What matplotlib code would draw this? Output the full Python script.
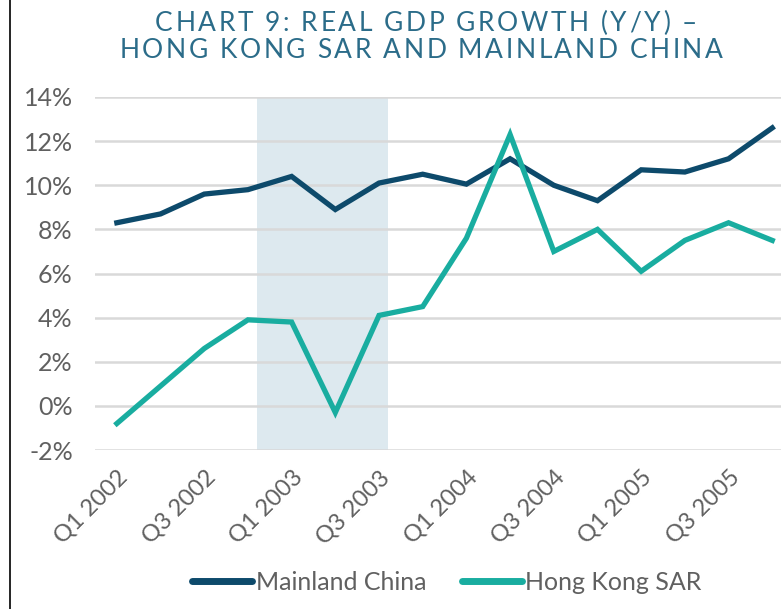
import numpy as np
import matplotlib.pyplot as plt
from matplotlib.lines import Line2D

# ── Datos ─────────────────────────────────────────────
trimestres = ["Q1 2002", "Q2 2002", "Q3 2002", "Q4 2002",
              "Q1 2003", "Q2 2003", "Q3 2003", "Q4 2003",
              "Q1 2004", "Q2 2004", "Q3 2004", "Q4 2004",
              "Q1 2005", "Q2 2005", "Q3 2005", "Q4 2005"]
china = [8.3, 8.7, 9.6, 9.8, 10.4, 8.9, 10.1, 10.5,
         10.05, 11.2, 10.0, 9.3, 10.7, 10.6, 11.2, 12.6]
hong_kong = [-0.8, 0.9, 2.6, 3.9, 3.8, -0.3, 4.1, 4.5,
             7.6, 12.3, 7.0, 8.0, 6.1, 7.5, 8.3, 7.5]
sars = (3.2, 6.2)          # periodo sombreado (SARS)
yticks = [-2, 0, 2, 4, 6, 8, 10, 12, 14]
titulo = ["CHART 9: REAL GDP GROWTH (Y/Y) –",
          "HONG KONG SAR AND MAINLAND CHINA"]

C_CHINA = "#0d4a6b"
C_HK = "#19ada0"
C_GRIS = "#606060"
FUENTE = "Lato"
W, H = 781, 609


def texto_espaciado(fig, s, xc, y, track, **kw):
    """Texto centrado en xc (px) con espaciado extra entre letras."""
    r = fig.canvas.get_renderer()

    def ancho(t):
        a = fig.text(0, 0, t + "|", **kw)
        b = fig.text(0, 0, "|", **kw)
        w = a.get_window_extent(r).width - b.get_window_extent(r).width
        a.remove(); b.remove()
        return w

    pos = [ancho(s[:i]) + i * track for i in range(len(s))]
    total = ancho(s) + (len(s) - 1) * track
    x0 = xc - total / 2
    for ch, p in zip(s, pos):
        if ch != " ":
            fig.text((x0 + p) / W, 1 - y / H, ch, ha="left", va="baseline", **kw)


fig = plt.figure(figsize=(W / 100, H / 100), dpi=100)
ax = fig.add_axes([95 / W, 1 - 450 / H, 1 - 95 / W, (450 - 97) / H])

x = np.arange(len(trimestres))
ax.axvspan(*sars, color="#dde9ef", zorder=0, lw=0)
for v in yticks:
    ax.axhline(v, color="#d9d9d9", lw=1.8, zorder=1)

ax.plot(x, china, color=C_CHINA, lw=3.8, zorder=3, solid_joinstyle="miter")
ax.plot(x, hong_kong, color=C_HK, lw=3.8, zorder=3, solid_joinstyle="miter")

ax.set_ylim(-2, 14)
ax.set_xlim(-0.5, 15.2)
ax.set_yticks(yticks)
ax.set_yticklabels([f"{v}%" for v in yticks], fontsize=18, color=C_GRIS,
                   family=FUENTE)
ax.set_xticks(x[::2])
ax.set_xticklabels(trimestres[::2], fontsize=17, color=C_GRIS, family=FUENTE,
                   rotation=45, ha="right", rotation_mode="anchor")
ax.tick_params(axis="y", length=0, pad=16)
ax.tick_params(axis="x", length=0, pad=12)
for s in ax.spines.values():
    s.set_visible(False)

estilo = dict(fontsize=19, color="#2b6c89", family=FUENTE)
texto_espaciado(fig, titulo[0], 426, 31, 2.6, **estilo)
texto_espaciado(fig, titulo[1], 421, 58, 2.6, **estilo)

handles = [Line2D([], [], color=C_CHINA, lw=5, solid_capstyle="round"),
           Line2D([], [], color=C_HK, lw=5, solid_capstyle="round")]
leg = fig.legend(handles, ["Mainland China", "Hong Kong SAR"], loc="center",
                 bbox_to_anchor=(447 / W, 1 - 582 / H), ncol=2, frameon=False,
                 handlelength=2.4, handletextpad=0.15, columnspacing=1.4,
                 prop={"family": FUENTE, "size": 18})
for t in leg.get_texts():
    t.set_color(C_GRIS)

# borde izquierdo
fig.add_artist(Line2D([10 / W, 10 / W], [0, 1], color="black", lw=1.2))

plt.savefig("out.png", dpi=100)
